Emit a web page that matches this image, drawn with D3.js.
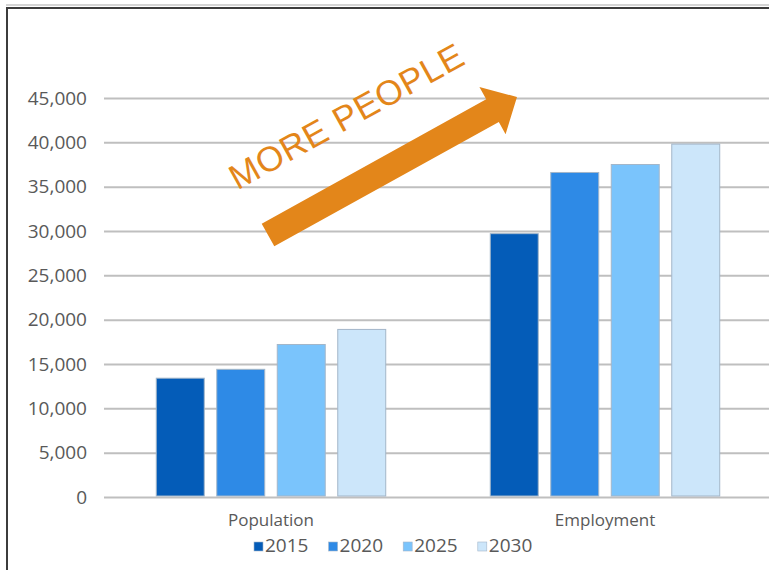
<!DOCTYPE html>
<html>
<head>
<meta charset="utf-8">
<script src="https://cdn.jsdelivr.net/npm/d3@7"></script>
<style>
  body { margin: 0; background: #fff; }
  svg { display: block; font-family: "Open Sans", "Liberation Sans", sans-serif; }
</style>
</head>
<body>
<svg></svg>
<script>
// data
const categories = ['Population', 'Employment'];
const years = ['2015', '2020', '2025', '2030'];
const population = [13400, 14400, 17200, 18900];
const employment = [29700, 36600, 37500, 39800];
const yTicks = [0, 5000, 10000, 15000, 20000, 25000, 30000, 35000, 40000, 45000];
const colors = ['#045cb8', '#2e8ae6', '#7ac4fc', '#cce6fa'];

const width = 769;
const height = 570;
const svg = d3.select('svg').attr('width', width).attr('height', height);

const rows = categories.map((c, i) => ({
    category: c,
    values: years.map((y, j) => ({ year: y, value: [population, employment][i][j] }))
}));

// frame
svg.append('line').attr('x1', 6).attr('x2', width).attr('y1', 5).attr('y2', 5)
   .attr('stroke', '#d4d4d4').attr('stroke-width', 2);
svg.append('rect').attr('x', 7).attr('y', 8).attr('width', width + 20).attr('height', height + 20)
   .attr('fill', 'none').attr('stroke', '#3c3c3c').attr('stroke-width', 2);

//Setting up scales
var yScale = d3.scaleLinear().domain([0, 45000]).range([497, 98]);
var x0 = d3.scaleBand().domain(categories).range([104, 772]);
var x1 = d3.scaleBand().domain(years).range([0, x0.bandwidth()])
           .paddingInner(0.207).paddingOuter(0.864);
var color = d3.scaleOrdinal().domain(years).range(colors);

//Gridlines + tick labels
var yAxis = d3.axisLeft(yScale).tickValues(yTicks).tickFormat(d3.format(','))
              .tickSize(-(width - 104)).tickSizeOuter(0).tickPadding(17);
var gy = svg.append('g').attr('transform', 'translate(104,0)').call(yAxis);
gy.select('.domain').remove();
gy.selectAll('.tick line').attr('stroke', '#bfbfbf').attr('stroke-width', 2);
gy.selectAll('.tick text').attr('fill', '#595959').style('font-size', '19px')
  .attr('font-family', '"Open Sans", sans-serif');

//Bars
svg.append('g').selectAll('g')
   .data(rows)
   .enter()
   .append('g')
       .attr('transform', d => `translate(${x0(d.category)},0)`)
   .selectAll('rect')
   .data(d => d.values)
   .enter()
   .append('rect')
       .attr('x', d => x1(d.year))
       .attr('width', x1.bandwidth())
       .attr('y', d => yScale(d.value))
       .attr('height', d => yScale(0) - yScale(d.value) - 1)
       .attr('fill', d => color(d.year))
       .attr('stroke', '#a3b6c9')
       .attr('stroke-width', 1);

//Category labels
var xAxis = d3.axisBottom(x0).tickSize(0).tickPadding(17);
var gx = svg.append('g').attr('transform', 'translate(0,497)').call(xAxis);
gx.select('.domain').remove();
gx.selectAll('.tick text').attr('fill', '#595959').style('font-size', '17px')
  .attr('font-family', '"Open Sans", sans-serif');

//Legend
var legend = svg.append('g').attr('transform', 'translate(254,552)')
    .selectAll('g')
    .data(years)
    .enter()
    .append('g')
        .attr('transform', (d, i) => `translate(${i * 74.6},0)`);
legend.append('rect').attr('x', 0).attr('y', -10).attr('width', 9).attr('height', 9)
      .attr('fill', d => color(d)).attr('stroke', '#a3b6c9').attr('stroke-width', 0.6);
legend.append('text').attr('x', 11).attr('y', 0)
      .attr('fill', '#595959').style('font-size', '19px')
      .text(d => d);

//Annotation arrow
const tail = [268, 235], tip = [517, 97];
const shaftW = 26, headW = 54, headL = 28;
const len = Math.hypot(tip[0] - tail[0], tip[1] - tail[1]);
const ux = (tip[0] - tail[0]) / len, uy = (tip[1] - tail[1]) / len;
const px = -uy, py = ux;
const base = [tip[0] - headL * ux, tip[1] - headL * uy];
const pts = [
    [tail[0] - px * shaftW / 2, tail[1] - py * shaftW / 2],
    [base[0] - px * shaftW / 2, base[1] - py * shaftW / 2],
    [base[0] - px * headW / 2, base[1] - py * headW / 2],
    tip,
    [base[0] + px * headW / 2, base[1] + py * headW / 2],
    [base[0] + px * shaftW / 2, base[1] + py * shaftW / 2],
    [tail[0] + px * shaftW / 2, tail[1] + py * shaftW / 2]
];
svg.append('path').attr('d', d3.line()(pts) + 'Z').attr('fill', '#e3861a');

svg.append('text')
   .attr('transform', 'translate(346,116) rotate(-29)')
   .attr('text-anchor', 'middle')
   .attr('dy', '0.36em')
   .attr('fill', '#e3861a')
   .style('font-size', '35px')
   .attr('font-family', '"Liberation Sans", Arial, sans-serif')
   .attr('textLength', 262)
   .attr('lengthAdjust', 'spacing')
   .text('MORE PEOPLE');
</script>
</body>
</html>
